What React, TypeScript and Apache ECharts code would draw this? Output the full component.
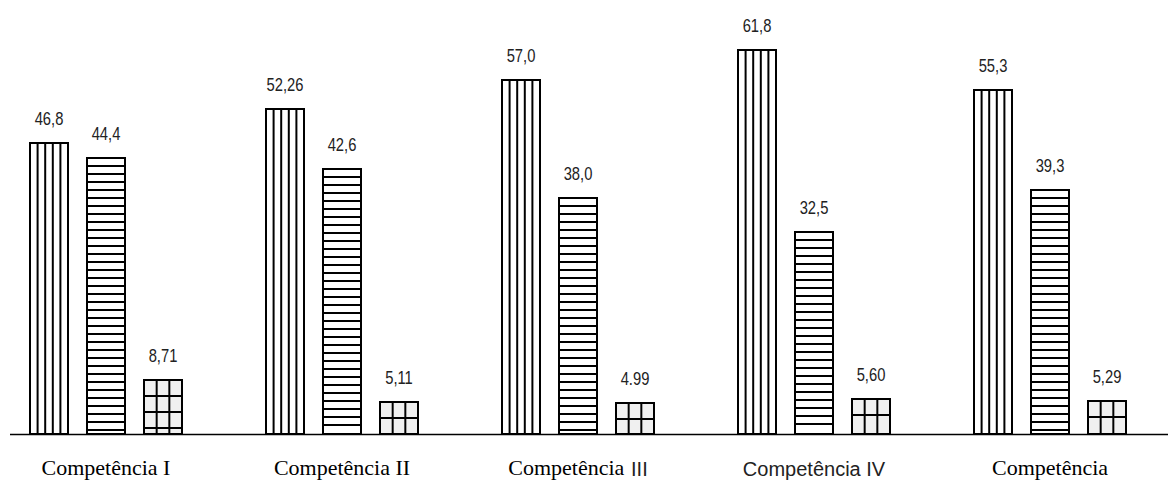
import React, { useEffect, useRef } from "react";
import * as echarts from "echarts";

const categories = ["Competência I", "Competência II", "Competência III", "Competência IV", "Competência"];
const serieA = [46.8, 52.26, 57.0, 61.8, 55.3];
const serieB = [44.4, 42.6, 38.0, 32.5, 39.3];
const serieC = [8.71, 5.11, 4.99, 5.6, 5.29];
const labelsA = ["46,8", "52,26", "57,0", "61,8", "55,3"];
const labelsB = ["44,4", "42,6", "38,0", "32,5", "39,3"];
const labelsC = ["8,71", "5,11", "4.99", "5,60", "5,29"];

const SANS = "'Liberation Sans', Arial, sans-serif";
const SERIF = "'Liberation Serif', 'Times New Roman', serif";
const BAR_W = 38;
const OFFSET = 57;
const SHIFT = 12;

type Pattern = "vertical" | "horizontal" | "grid";

function makeRender(pattern: Pattern, offset: number, labels: string[]) {
  return (params: any, api: any) => {
    const idx = api.value(0);
    const v = api.value(1);
    const top = api.coord([idx, v]);
    const base = api.coord([idx, 0]);
    const cx = top[0] + offset;
    const x0 = Math.round(cx - BAR_W / 2);
    const y0 = Math.round(top[1]);
    const yb = Math.round(base[1]);
    const h = yb - y0;
    const children: any[] = [];
    children.push({
      type: "rect",
      shape: { x: x0, y: y0, width: BAR_W, height: h },
      style: { fill: pattern === "grid" ? "#f0f0f0" : "#ffffff", stroke: "none" },
    });
    const lineStyle = { stroke: "#000", lineWidth: 2 };
    if (pattern === "vertical") {
      for (let k = 1; k < 5; k++) {
        const x = x0 + (BAR_W * k) / 5;
        children.push({ type: "line", shape: { x1: x, y1: y0, x2: x, y2: yb }, style: lineStyle });
      }
    } else if (pattern === "horizontal") {
      for (let y = y0 + 8; y < yb - 2; y += 8) {
        children.push({ type: "line", shape: { x1: x0, y1: y, x2: x0 + BAR_W, y2: y }, style: lineStyle });
      }
    } else {
      for (let k = 1; k < 3; k++) {
        const x = x0 + (BAR_W * k) / 3;
        children.push({ type: "line", shape: { x1: x, y1: y0, x2: x, y2: yb }, style: lineStyle });
      }
      for (let y = y0 + 16; y < yb - 3; y += 16) {
        children.push({ type: "line", shape: { x1: x0, y1: y, x2: x0 + BAR_W, y2: y }, style: lineStyle });
      }
    }
    children.push({
      type: "rect",
      shape: { x: x0, y: y0, width: BAR_W, height: h },
      style: { fill: "none", stroke: "#000", lineWidth: 2 },
    });
    children.push({
      type: "text",
      x: cx,
      y: y0 - 16,
      scaleX: 0.82,
      style: {
        text: labels[idx],
        x: 0,
        y: 0,
        align: "center",
        verticalAlign: "bottom",
        fontSize: 18,
        fontFamily: SANS,
        fill: "#222",
      },
    });
    return { type: "group", children };
  };
}

export default function App() {
  const ref = useRef<HTMLDivElement>(null);
  useEffect(() => {
    document.body.style.margin = "0";
    const chart = echarts.init(ref.current!, undefined, { renderer: "svg" });
    const toData = (arr: number[]) => arr.map((v, i) => [i, v]);
    chart.setOption({
      animation: false,
      backgroundColor: "#ffffff",
      grid: { left: 0, right: 0, top: 50, bottom: 50 },
      xAxis: {
        type: "category",
        data: categories,
        axisLine: { show: false },
        axisTick: { show: false },
        axisLabel: {
          margin: 22,
          interval: 0,
          formatter: (value: string, index: number) => {
            if (index === 3) return `{n|${value}}`;
            if (index === 2) return `{s|Competência}  {n|III}`;
            return `{s|${value}}`;
          },
          rich: {
            s: { fontFamily: SERIF, fontSize: 22, color: "#000", verticalAlign: "middle" },
            n: { fontFamily: SANS, fontSize: 20, color: "#222", verticalAlign: "middle", padding: [3, 0, 0, 0] },
          },
        },
      },
      yAxis: { type: "value", min: 0, max: 61.8, show: false, splitLine: { show: false } },
      graphic: [
        {
          type: "line",
          shape: { x1: 10 + SHIFT, y1: 434.5, x2: 1168 + SHIFT, y2: 434.5 },
          style: { stroke: "#000", lineWidth: 1.5 },
          z: 10,
        },
      ],
      series: [
        { type: "custom", data: toData(serieA), encode: { x: 0, y: 1 }, renderItem: makeRender("vertical", -OFFSET, labelsA) },
        { type: "custom", data: toData(serieB), encode: { x: 0, y: 1 }, renderItem: makeRender("horizontal", 0, labelsB) },
        { type: "custom", data: toData(serieC), encode: { x: 0, y: 1 }, renderItem: makeRender("grid", OFFSET, labelsC) },
      ],
    });
    return () => chart.dispose();
  }, []);
  return <div ref={ref} style={{ width: 1168 + SHIFT, height: 484, marginLeft: -SHIFT }} />;
}
